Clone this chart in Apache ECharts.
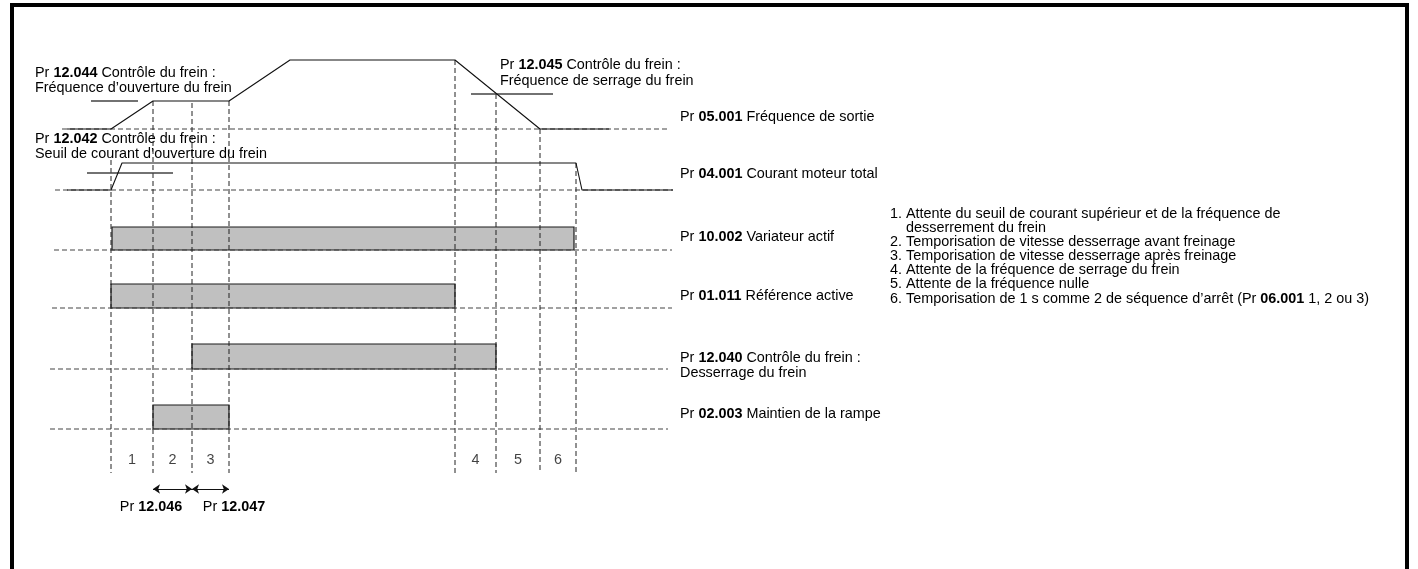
<!DOCTYPE html>
<html>
<head>
<meta charset="utf-8">
<script src="https://cdn.jsdelivr.net/npm/echarts@6/dist/echarts.min.js"></script>
<style>
  html, body { margin: 0; padding: 0; background: #fff; }
  #chart { width: 1418px; height: 569px; }
</style>
</head>
<body>
<div id="chart"></div>
<script>
// time axis and level axis both run in drawing units (schematic diagram)
const eventTimes = [111, 153, 192, 229, 455, 496, 540, 576];
const eventTops = [160, 101, 103, 101, 60, 94, 129, 163];
const eventBottom = 473;

const freqTimes = [67, 111, 153, 229, 290, 455, 540, 609];
const freqLevels = [129, 129, 101, 101, 60, 60, 129, 129];

const currTimes = [67, 111, 122, 576, 582, 673];
const currLevels = [190, 190, 163, 163, 190, 190];

// thresholds: [from, to, level]
const thresholds = [
  [91, 138, 101],   // Pr 12.044
  [87, 173, 173],   // Pr 12.042
  [471, 553, 94],   // Pr 12.045
];

// baselines: [from, to, level]
const baselines = [
  [62, 668, 129],
  [55, 673, 190],
  [54, 672, 250],
  [52, 672, 308],
  [50, 668, 369],
  [50, 668, 429],
];

// digital signals: [start, end, high, low]
const barSignals = [
  [112, 574, 227, 250], // Pr 10.002
  [111, 455, 284, 308], // Pr 01.011
  [192, 496, 344, 369], // Pr 12.040
  [153, 229, 405, 429], // Pr 02.003
];

const phaseLabels = ['1', '2', '3', '', '4', '5', '6'];
const phaseLevel = 460;

const arrowLevel = 489;
const arrowSpans = [[153, 192], [192, 229]];

const rightLabels = [
  ['05.001', 'Fréquence de sortie', 117],
  ['04.001', 'Courant moteur total', 174],
  ['10.002', 'Variateur actif', 237],
  ['01.011', 'Référence active', 296],
  ['12.040', 'Contrôle du frein :', 358],
  ['02.003', 'Maintien de la rampe', 414],
];

const notes = [
  '1. Attente du seuil de courant supérieur et de la fréquence de',
  '    desserrement du frein',
  '2. Temporisation de vitesse desserrage avant freinage',
  '3. Temporisation de vitesse desserrage après freinage',
  '4. Attente de la fréquence de serrage du frein',
  '5. Attente de la fréquence nulle',
];

const FONT = '"Liberation Sans", Arial, sans-serif';
const FS = 14.4;
const rich = {
  n: { fontSize: FS, fontFamily: FONT, color: '#111' },
  b: { fontSize: FS, fontFamily: FONT, color: '#111', fontWeight: 'bold' },
};

function txt(x, y, text, align) {
  return {
    type: 'text', x: x, y: y, silent: true,
    style: { text: text, rich: rich, align: align || 'left', verticalAlign: 'middle' },
  };
}

function segments(list) {
  const out = [];
  list.forEach((s) => { out.push([s[0], s[2]], [s[1], s[2]], [null, null]); });
  return out;
}

const verticals = [];
eventTimes.forEach((t, i) => { verticals.push([t, eventTops[i]], [t, eventBottom], [null, null]); });

const phaseData = [];
for (let i = 0; i < eventTimes.length - 1; i++) {
  if (phaseLabels[i]) phaseData.push({ value: [(eventTimes[i] + eventTimes[i + 1]) / 2, phaseLevel], label: { formatter: phaseLabels[i] } });
}

const chart = echarts.init(document.getElementById('chart'));

const graphic = [
  { type: 'polyline', shape: { points: [[12, 569], [12, 5], [1407, 5], [1407, 569]] }, style: { stroke: '#000', lineWidth: 4, fill: null } },
  txt(35, 73, '{n|Pr }{b|12.044}{n| Contrôle du frein :}'),
  txt(35, 88, '{n|Fréquence d’ouverture du frein}'),
  txt(35, 139, '{n|Pr }{b|12.042}{n| Contrôle du frein :}'),
  txt(35, 154, '{n|Seuil de courant d’ouverture du frein}'),
  txt(500, 65, '{n|Pr }{b|12.045}{n| Contrôle du frein :}'),
  txt(500, 81, '{n|Fréquence de serrage du frein}'),
  txt(680, 373, '{n|Desserrage du frein}'),
  txt(151, 507, '{n|Pr }{b|12.046}', 'center'),
  txt(234, 507, '{n|Pr }{b|12.047}', 'center'),
];
rightLabels.forEach((r) => {
  graphic.push(txt(680, r[2], '{n|Pr }{b|' + r[0] + '}{n| ' + r[1] + '}'));
});
const noteTop = 214;
const noteStep = 14.1;
notes.forEach((line, i) => {
  graphic.push(txt(890, noteTop + i * noteStep, '{n|' + line + '}'));
});
graphic.push(txt(890, noteTop + 6 * noteStep, '{n|6. Temporisation de 1 s comme 2 de séquence d’arrêt (Pr }{b|06.001}{n| 1, 2 ou 3)}'));

chart.setOption({
  animation: false,
  grid: { left: 0, right: 0, top: 0, bottom: 0 },
  xAxis: { type: 'value', min: 0, max: 1418, show: false },
  yAxis: { type: 'value', min: 0, max: 569, inverse: true, show: false },
  graphic: graphic,
  series: [
    {
      type: 'line', data: segments(baselines), connectNulls: false, showSymbol: false, silent: true,
      lineStyle: { color: '#444', width: 1.2, type: [5, 3] },
    },
    {
      type: 'line', data: verticals, connectNulls: false, showSymbol: false, silent: true,
      lineStyle: { color: '#222', width: 1, type: [5, 3] },
    },
    {
      type: 'custom', silent: true, data: barSignals,
      renderItem: (params, api) => {
        const p0 = api.coord([api.value(0), api.value(2)]);
        const p1 = api.coord([api.value(1), api.value(3)]);
        return { type: 'rect', shape: { x: p0[0], y: p0[1], width: p1[0] - p0[0], height: p1[1] - p0[1] },
          style: { fill: '#c0c0c0', stroke: '#1a1a1a', lineWidth: 1.2 } };
      },
    },
    {
      type: 'line', data: segments(thresholds), connectNulls: false, showSymbol: false, silent: true,
      lineStyle: { color: '#444', width: 1.5 },
    },
    {
      type: 'line', data: freqTimes.map((t, i) => [t, freqLevels[i]]), showSymbol: false, silent: true,
      lineStyle: { color: '#111', width: 1.1 },
    },
    {
      type: 'line', data: currTimes.map((t, i) => [t, currLevels[i]]), showSymbol: false, silent: true,
      lineStyle: { color: '#111', width: 1.1 },
    },
    {
      type: 'scatter', data: phaseData, symbolSize: 0, silent: true,
      label: { show: true, position: 'inside', color: '#111', fontSize: FS, fontFamily: FONT },
    },
    {
      type: 'lines', coordinateSystem: 'cartesian2d', silent: true,
      data: arrowSpans.map((s) => ({ coords: [[s[0], arrowLevel], [s[1], arrowLevel]] })),
      symbol: ['arrow', 'arrow'], symbolSize: 7,
      lineStyle: { color: '#111', width: 1, opacity: 1 },
    },
  ],
});
</script>
</body>
</html>
